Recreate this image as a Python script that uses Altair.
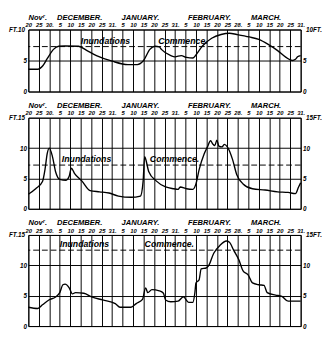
import altair as alt
import pandas as pd

# ---- axis text ----
day_labels = ["20", "25", "30.", "5", "10", "15", "20", "25", "31.",
              "5", "10", "15", "20", "25", "31.",
              "5", "10", "15", "20", "25", "28.",
              "5", "10", "15", "20", "25", "31."]
grid_idx = list(range(27))
month_names = ["Novʳ.", "DECEMBER.", "JANUARY.", "FEBRUARY.", "MARCH."]
month_pos = [0.9, 4.9, 10.7, 17.3, 22.7]
note_text = ["Inundations", "Commence."]

# ---- panel 1 (0-10 ft) ----
p1_x = [0, 0.9, 1.4, 1.8, 2.4, 2.9, 3.5, 4.8, 5.6, 6.5, 8.0, 9.5, 10.4, 11.0, 11.6,
        12.1, 12.5, 12.7, 13.6, 14.0, 14.6, 15.1, 15.7, 16.0, 16.6, 17.5, 18.4,
        19.2, 19.9, 21.1, 22.0, 22.9, 23.8, 24.6, 25.2, 25.5, 25.7, 26.0]
p1_y = [3.6, 3.6, 4.2, 5.3, 6.8, 7.3, 7.35, 7.3, 6.6, 5.8, 4.9, 4.35, 4.35, 5.0, 6.8,
        7.3, 7.2, 6.8, 5.8, 5.6, 5.8, 5.5, 5.4, 5.9, 7.3, 8.6, 9.2,
        9.4, 9.2, 8.8, 8.4, 7.6, 6.6, 5.5, 5.0, 5.2, 5.6, 5.8]
p1_top = 10
p1_ticks = [0, 5, 10]
p1_dash = 7.25
p1_note_x = [5.0, 12.4]

# ---- panel 2 (0-15 ft) ----
p2_x = [0, 0.7, 1.35, 1.6, 1.8, 2.0, 2.3, 2.6, 3.0, 3.6,
        3.9, 4.1, 4.4, 5.1, 5.9, 6.8, 7.7, 8.6, 9.8, 10.7,
        10.96, 11.1, 11.2, 11.5, 12.2, 13.1, 13.9, 14.3, 14.5, 15.1,
        15.7, 16.0, 16.3, 16.8, 17.1, 17.4, 17.6, 17.8, 18.0, 18.2,
        18.5, 18.7, 19.0, 19.5, 19.9, 20.5, 21.4, 22.6, 23.8, 24.8,
        25.5, 25.8, 26.0]
p2_y = [2.4, 3.3, 4.5, 6.6, 9.1, 10.0, 8.6, 6.1, 4.85, 4.7,
        5.35, 6.7, 5.85, 4.6, 3.0, 2.8, 2.6, 2.1, 1.9, 2.1,
        4.6, 8.6, 8.2, 6.1, 4.6, 3.6, 3.3, 3.2, 3.6, 3.3,
        3.2, 4.1, 6.4, 9.1, 10.2, 11.2, 10.7, 10.4, 11.3, 10.3,
        10.2, 10.6, 10.2, 8.1, 5.6, 4.1, 3.3, 3.1, 2.8, 2.7,
        2.5, 3.6, 4.3]
p2_top = 15
p2_ticks = [0, 5, 10, 15]
p2_dash = 7.2
p2_note_x = [3.2, 11.6]

# ---- panel 3 (0-15 ft) ----
p3_x = [0, 0.9, 1.35, 1.96, 2.6, 3.0, 3.3, 3.5, 3.9, 4.2,
        4.5, 5.3, 6.05, 7.1, 8.3, 8.75, 9.8, 10.3, 10.9, 11.2,
        11.4, 11.8, 12.5, 12.9, 13.1, 13.6, 14.3, 14.8, 15.3, 15.7,
        15.9, 16.0, 16.3, 16.5, 17.0, 17.2, 17.7, 18.3, 18.9, 19.2,
        19.6, 20.1, 20.5, 21.0, 21.4, 22.0, 22.5, 22.8, 23.6, 24.2,
        24.8, 25.8, 26.0]
p3_y = [3.1, 2.9, 3.5, 4.3, 4.8, 5.5, 6.8, 6.9, 6.3, 5.3,
        5.5, 5.4, 4.8, 4.3, 3.7, 3.1, 3.1, 3.7, 4.4, 6.3,
        5.5, 6.0, 5.8, 5.4, 4.3, 4.0, 4.1, 4.8, 3.9, 3.9,
        5.5, 7.1, 7.6, 9.4, 9.6, 9.9, 12.0, 13.3, 14.0, 13.8,
        12.5, 10.9, 9.1, 8.4, 7.1, 6.8, 6.7, 5.5, 5.1, 4.9,
        4.1, 4.1, 4.1]
p3_top = 15
p3_ticks = [0, 5, 10, 15]
p3_dash = 12.5
p3_note_x = [3.0, 11.1]

FONT = "Liberation Sans"
W = 281


def panel(xs, ys, top, ticks, dash, note_x, h):
    xsc = alt.Scale(domain=[0, 26], nice=False, zero=False)
    ysc = alt.Scale(domain=[0, top], nice=False, zero=True)
    arr = "[" + ",".join("'" + d + "'" for d in day_labels) + "]"
    is_top = "datum.value == %d" % top

    def xaxis():
        return alt.Axis(orient="top", values=grid_idx, labelExpr=arr + "[datum.value]",
                        grid=True, labelFlush=False, labelOverlap=False, labelBound=False,
                        labelPadding=2, labelFontSize=6, title=None)

    yl = alt.Axis(orient="left", values=ticks, grid=True,
                  labelPadding={"condition": {"test": is_top, "value": 4}, "value": 2},
                  labelExpr="%s ? 'FT.%d' : datum.label" % (is_top, top))
    yr = alt.Axis(orient="right", values=ticks, grid=False,
                  labelPadding={"condition": {"test": is_top, "value": 5}, "value": 2},
                  labelExpr="%s ? '%dFT.' : datum.label" % (is_top, top))
    df = pd.DataFrame({"x": xs, "ft": ys})
    line = alt.Chart(df).mark_line(color="black", strokeWidth=1.4, interpolate="monotone").encode(
        x=alt.X("x:Q", scale=xsc, axis=xaxis()),
        y=alt.Y("ft:Q", scale=ysc, axis=yl, title=None),
    )
    right = alt.Chart(df).mark_point(opacity=0).encode(
        x=alt.X("x:Q", scale=xsc, axis=xaxis()),
        y=alt.Y("ft:Q", scale=ysc, axis=yr, title=None),
    )
    rule = alt.Chart(pd.DataFrame({"lvl": [dash]})).mark_rule(
        color="black", strokeDash=[6, 3], strokeWidth=1).encode(
        y=alt.Y("lvl:Q", scale=ysc, axis=None))
    notes = alt.Chart(pd.DataFrame({"x": note_x, "lvl": [dash, dash], "t": note_text})).mark_text(
        align="left", baseline="bottom", dy=-1, font=FONT, fontStyle="italic",
        fontWeight="bold", fontSize=9, color="black").encode(
        x=alt.X("x:Q", scale=xsc, axis=xaxis()),
        y=alt.Y("lvl:Q", scale=ysc, axis=None),
        text="t:N")
    months = alt.Chart(pd.DataFrame({"x": month_pos, "m": month_names})).mark_text(
        font=FONT, fontStyle="italic", fontWeight="bold", fontSize=7.8, color="black").encode(
        x=alt.X("x:Q", scale=xsc, axis=xaxis()),
        y=alt.value(-12),
        text="m:N")
    return alt.layer(line, right, rule, notes, months).resolve_axis(y="independent").properties(
        width=W, height=h)


chart = alt.vconcat(
    panel(p1_x, p1_y, p1_top, p1_ticks, p1_dash, p1_note_x, 64),
    panel(p2_x, p2_y, p2_top, p2_ticks, p2_dash, p2_note_x, 94),
    panel(p3_x, p3_y, p3_top, p3_ticks, p3_dash, p3_note_x, 94),
    spacing=6,
    padding=0,
).configure_view(stroke="black", strokeWidth=1).configure_axis(
    labelFont=FONT, labelFontStyle="italic", labelFontWeight="bold", labelColor="black",
    labelFontSize=6.5, gridColor="black", gridOpacity=1, gridWidth=1, ticks=False, domain=False,
)

chart.save("out.html", embed_options={"renderer": "svg", "actions": False})
